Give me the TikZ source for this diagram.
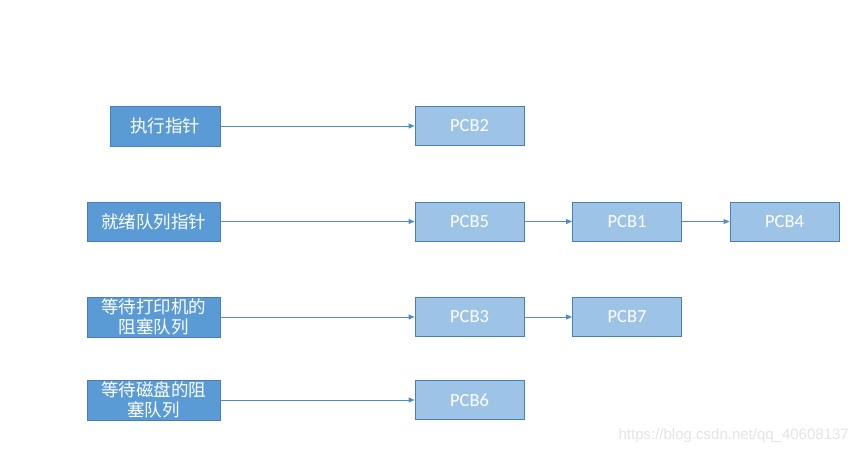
\documentclass[tikz,border=0pt]{standalone}
\usepackage{fontspec}
\setmainfont{Carlito}
\newfontfamily\cjk{Noto Sans CJK SC}
\usetikzlibrary{arrows.meta}
\definecolor{darkfill}{HTML}{5B9BD5}
\definecolor{lightfill}{HTML}{9DC3E6}
\definecolor{boxline}{HTML}{4A7EBB}
\definecolor{arrowcol}{HTML}{4F8BCB}
\definecolor{wm}{HTML}{E4E4E4}
\begin{document}
\begin{tikzpicture}[x=1pt,y=-1pt,
  ptr/.style={draw=boxline,line width=0.9pt,fill=darkfill,text=white,inner sep=0pt,
    align=center,font=\cjk\fontsize{17.5}{19.5}\selectfont},
  pcb/.style={draw=boxline,line width=0.9pt,fill=lightfill,text=white,inner sep=0pt,
    minimum width=109pt,minimum height=39pt,font=\fontsize{18.5}{20}\selectfont},
  link/.style={draw=arrowcol,line width=0.9pt,-{Triangle[length=6pt,width=5pt]}}]
\useasboundingbox (0,0) rectangle (859,455);
% pointer boxes
\node[ptr,minimum width=110pt,minimum height=40pt] (exec) at (165,126) {执行指针};
\node[ptr,minimum width=133pt,minimum height=39pt] (ready) at (153.5,221.5) {就绪队列指针};
\node[ptr,minimum width=133pt,minimum height=40pt] (printer) at (153.5,317) {等待打印机的\\阻塞队列};
\node[ptr,minimum width=133pt,minimum height=40pt] (disk) at (153.5,400) {等待磁盘的阻\\塞队列};
% PCB boxes
\node[pcb] (pcb2) at (469.5,126) {PCB2};
\node[pcb] (pcb5) at (469.5,221.5) {PCB5};
\node[pcb] (pcb1) at (627,221.5) {PCB1};
\node[pcb] (pcb4) at (784.5,221.5) {PCB4};
\node[pcb] (pcb3) at (469.5,317) {PCB3};
\node[pcb] (pcb7) at (627,317) {PCB7};
\node[pcb] (pcb6) at (469.5,400) {PCB6};
% arrows
\draw[link] (exec) -- (pcb2);
\draw[link] (ready) -- (pcb5);
\draw[link] (pcb5) -- (pcb1);
\draw[link] (pcb1) -- (pcb4);
\draw[link] (printer) -- (pcb3);
\draw[link] (pcb3) -- (pcb7);
\draw[link] (disk) -- (pcb6);
% watermark
\node[text=wm,font=\fontspec{Liberation Sans}\fontsize{15}{17}\selectfont,anchor=east,inner sep=0pt] (wmark) at (849,436) {https://blog.csdn.net/qq\_40608137};
\end{tikzpicture}
\end{document}
